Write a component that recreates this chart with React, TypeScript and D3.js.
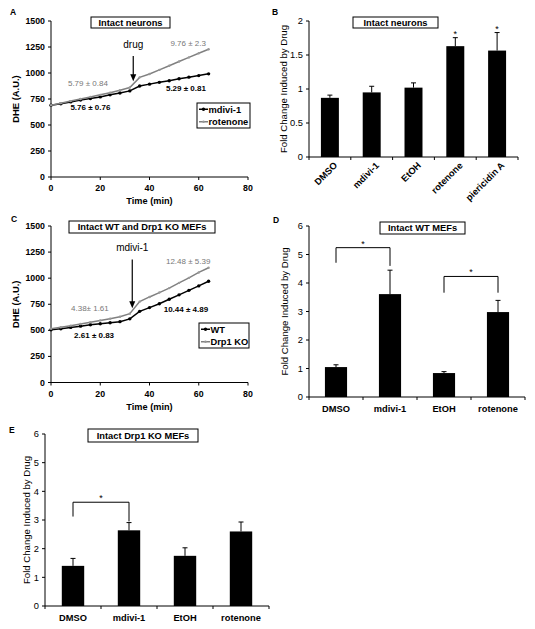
import React from 'react';
import * as d3 from 'd3';

const FONT = '"Liberation Sans", Arial, Helvetica, sans-serif';

// ---------- Panel A data ----------
const timeA = [0, 4, 8, 12, 16, 20, 24, 28, 32, 36, 40, 44, 48, 52, 56, 60, 64];
const mdiviA = [690, 705, 722, 740, 755, 770, 790, 808, 828, 875, 893, 910, 925, 945, 960, 975, 992];
const rotenoneA = [690, 710, 730, 750, 770, 790, 810, 835, 860, 958, 990, 1030, 1070, 1110, 1150, 1190, 1228];

// ---------- Panel C data ----------
const timeC = [0, 4, 8, 12, 16, 20, 24, 28, 32, 36, 40, 44, 48, 52, 56, 60, 64];
const wtC = [505, 515, 528, 540, 553, 563, 573, 583, 610, 682, 718, 755, 798, 840, 883, 926, 970];
const koC = [515, 530, 545, 560, 577, 595, 612, 630, 660, 775, 820, 862, 905, 955, 1003, 1055, 1100];

const yTicksLine = [0, 250, 500, 750, 1000, 1250, 1500];
const xTicksLine = [0, 20, 40, 60, 80];

// ---------- Panel B data ----------
const catsB = ['DMSO', 'mdivi-1', 'EtOH', 'rotenone', 'piericidin A'];
const valsB = [0.87, 0.95, 1.02, 1.63, 1.565];
const errB = [0.04, 0.09, 0.07, 0.125, 0.265];
const starsB = ['rotenone', 'piericidin A'];
const yTicksB = [0, 0.5, 1, 1.5, 2];

// ---------- Panel D data ----------
const catsD = ['DMSO', 'mdivi-1', 'EtOH', 'rotenone'];
const valsD = [1.05, 3.61, 0.84, 2.98];
const errD = [0.08, 0.84, 0.05, 0.41];
const yTicksD = [0, 1, 2, 3, 4, 5, 6];

// ---------- Panel E data ----------
const catsE = ['DMSO', 'mdivi-1', 'EtOH', 'rotenone'];
const valsE = [1.4, 2.64, 1.75, 2.6];
const errE = [0.26, 0.27, 0.28, 0.33];
const yTicksE = [0, 1, 2, 3, 4, 5, 6];

type Series = { values: number[]; color: string; marker: string; mr: number; name: string };
type Note = { t: number; v: number; text: string; color: string; bold: boolean };

function LinePanel(p: {
  left: number; right: number; top: number; bottom: number;
  time: number[]; series: Series[]; notes: Note[];
  arrow: { t: number; from: number; to: number; label: string };
  title: { x0: number; x1: number; y0: number; y1: number; text: string };
  legend: { x0: number; x1: number; y0: number; y1: number };
  letter: { x: number; y: number; text: string };
}) {
  const x = d3.scaleLinear().domain([0, 80]).range([p.left, p.right]);
  const y = d3.scaleLinear().domain([0, 1500]).range([p.bottom, p.top]);
  const line = d3.line<number>().x((_, i) => x(p.time[i])).y((d) => y(d));
  const ax = x(p.arrow.t);
  return (
    <g>
      <text x={p.letter.x} y={p.letter.y} fontSize={8.5} fontWeight="bold">{p.letter.text}</text>
      {/* axes */}
      <line x1={p.left} x2={p.left} y1={p.bottom} y2={p.top} stroke="#000" strokeWidth={1} />
      <line x1={p.left} x2={p.right} y1={p.bottom} y2={p.bottom} stroke="#000" strokeWidth={1} />
      {yTicksLine.map((t) => (
        <g key={'y' + t}>
          <line x1={p.left - 3} x2={p.left} y1={y(t)} y2={y(t)} stroke="#000" />
          <text x={p.left - 6} y={y(t)} dy="0.35em" textAnchor="end" fontSize={8.8} fontWeight="bold">{t}</text>
        </g>
      ))}
      {xTicksLine.map((t) => (
        <g key={'x' + t}>
          <line x1={x(t)} x2={x(t)} y1={p.bottom} y2={p.bottom + 3} stroke="#000" />
          <text x={x(t)} y={p.bottom + 14} textAnchor="middle" fontSize={8.8} fontWeight="bold">{t}</text>
        </g>
      ))}
      <text x={(p.left + p.right) / 2} y={p.bottom + 27} textAnchor="middle" fontSize={9.2} fontWeight="bold">Time (min)</text>
      <text transform={`translate(${p.left - 32},${(p.top + p.bottom) / 2}) rotate(-90)`} textAnchor="middle" fontSize={9.4} fontWeight="bold">DHE (A.U.)</text>
      {/* series */}
      {p.series.map((s, si) => (
        <g key={'s' + si}>
          <path d={line(s.values) || ''} fill="none" stroke={s.color} strokeWidth={1.5} />
          {s.values.map((v, i) => (
            <circle key={i} cx={x(p.time[i])} cy={y(v)} r={s.mr} fill={s.marker} />
          ))}
        </g>
      ))}
      {/* notes */}
      {p.notes.map((n, i) => (
        <text key={'n' + i} x={x(n.t)} y={y(n.v)} textAnchor="middle" fontSize={8} fill={n.color} fontWeight={n.bold ? 'bold' : 'normal'}>{n.text}</text>
      ))}
      {/* arrow */}
      <text x={ax} y={y(p.arrow.from) - 8} textAnchor="middle" fontSize={10}>{p.arrow.label}</text>
      <line x1={ax} x2={ax} y1={y(p.arrow.from)} y2={y(p.arrow.to) - 5} stroke="#000" strokeWidth={1.2} />
      <path d={`M${ax - 3},${y(p.arrow.to) - 7} L${ax},${y(p.arrow.to)} L${ax + 3},${y(p.arrow.to) - 7} Z`} fill="#000" />
      {/* title */}
      <rect x={p.title.x0} y={p.title.y0} width={p.title.x1 - p.title.x0} height={p.title.y1 - p.title.y0} fill="#fff" stroke="#000" strokeWidth={1} />
      <text x={(p.title.x0 + p.title.x1) / 2} y={(p.title.y0 + p.title.y1) / 2} dy="0.36em" textAnchor="middle" fontSize={9.3} fontWeight="bold">{p.title.text}</text>
      {/* legend */}
      <rect x={p.legend.x0} y={p.legend.y0} width={p.legend.x1 - p.legend.x0} height={p.legend.y1 - p.legend.y0} fill="#fff" stroke="#000" strokeWidth={1} />
      {p.series.map((s, i) => {
        const rows = p.series.length;
        const rh = (p.legend.y1 - p.legend.y0) / rows;
        const cy = p.legend.y0 + rh * (i + 0.5);
        return (
          <g key={'l' + i}>
            <line x1={p.legend.x0 + 2} x2={p.legend.x0 + 11} y1={cy} y2={cy} stroke={s.color} strokeWidth={1.5} />
            <circle cx={p.legend.x0 + 6.5} cy={cy} r={s.mr} fill={s.marker} />
            <text x={p.legend.x0 + 11.5} y={cy} dy="0.35em" fontSize={9.3} fontWeight="bold">{s.name}</text>
          </g>
        );
      })}
    </g>
  );
}

function BarPanel(p: {
  left: number; right: number; top: number; bottom: number; max: number;
  cats: string[]; vals: number[]; errs: number[]; yTicks: number[]; pad: number;
  rotated: boolean; stars: string[];
  brackets: { a: string; b: string; top: number; la: number; lb: number }[];
  title: { x0: number; x1: number; y0: number; y1: number; text: string };
  letter: { x: number; y: number; text: string };
  labelX: number;
}) {
  const x = d3.scaleBand<string>().domain(p.cats).range([p.left, p.right]).paddingInner(p.pad).paddingOuter(p.pad / 2);
  const y = d3.scaleLinear().domain([0, p.max]).range([p.bottom, p.top]);
  const step = x.step();
  const bw = x.bandwidth();
  const cx = (c: string) => (x(c) as number) + bw / 2;
  return (
    <g>
      <text x={p.letter.x} y={p.letter.y} fontSize={8.5} fontWeight="bold">{p.letter.text}</text>
      {p.cats.map((c, i) => (
        <g key={c}>
          <rect x={x(c)} y={y(p.vals[i])} width={bw} height={y(0) - y(p.vals[i])} fill="#000" />
          <line x1={cx(c)} x2={cx(c)} y1={y(p.vals[i])} y2={y(p.vals[i] + p.errs[i])} stroke="#000" strokeWidth={1} />
          <line x1={cx(c) - 2.5} x2={cx(c) + 2.5} y1={y(p.vals[i] + p.errs[i])} y2={y(p.vals[i] + p.errs[i])} stroke="#000" strokeWidth={1} />
          {p.stars.includes(c) && (
            <text x={cx(c)} y={y(p.vals[i] + p.errs[i]) - 1} textAnchor="middle" fontSize={9}>*</text>
          )}
        </g>
      ))}
      <line x1={p.left} x2={p.left} y1={p.bottom} y2={p.top} stroke="#000" />
      <line x1={p.left} x2={p.right} y1={p.bottom} y2={p.bottom} stroke="#000" />
      {d3.range(p.cats.length + 1).map((i) => (
        <line key={'ct' + i} x1={p.left + i * step} x2={p.left + i * step} y1={p.bottom} y2={p.bottom + 3} stroke="#000" />
      ))}
      {p.yTicks.map((t) => (
        <g key={'y' + t}>
          <line x1={p.left - 3} x2={p.left} y1={y(t)} y2={y(t)} stroke="#000" />
          <text x={p.left - 6} y={y(t)} dy="0.35em" textAnchor="end" fontSize={9.3}>{t}</text>
        </g>
      ))}
      {p.cats.map((c) =>
        p.rotated ? (
          <text key={'cl' + c} transform={`translate(${cx(c) + 8},${p.bottom + 9}) rotate(-45)`} textAnchor="end" fontSize={9.3} fontWeight="bold">{c}</text>
        ) : (
          <text key={'cl' + c} x={cx(c)} y={p.bottom + 15} textAnchor="middle" fontSize={9.3} fontWeight="bold">{c}</text>
        )
      )}
      <text transform={`translate(${p.labelX},${(p.top + p.bottom) / 2}) rotate(-90)`} textAnchor="middle" fontSize={9.6}>Fold Change Induced by Drug</text>
      {p.brackets.map((b, i) => (
        <g key={'b' + i}>
          <path d={`M${cx(b.a)},${y(b.la)} V${y(b.top)} H${cx(b.b)} V${y(b.lb)}`} fill="none" stroke="#000" strokeWidth={1} />
          <text x={(cx(b.a) + cx(b.b)) / 2} y={y(b.top) - 1} textAnchor="middle" fontSize={9}>*</text>
        </g>
      ))}
      <rect x={p.title.x0} y={p.title.y0} width={p.title.x1 - p.title.x0} height={p.title.y1 - p.title.y0} fill="#fff" stroke="#000" strokeWidth={1} />
      <text x={(p.title.x0 + p.title.x1) / 2} y={(p.title.y0 + p.title.y1) / 2} dy="0.36em" textAnchor="middle" fontSize={9.3} fontWeight="bold">{p.title.text}</text>
    </g>
  );
}

export default function App() {
  const gray = '#808080';
  return (
    <svg width={535} height={629} style={{ position: 'absolute', left: 0, top: 0, background: '#fff' }} fontFamily={FONT}>
      <rect x={0} y={0} width={535} height={629} fill="#fff" />
      <LinePanel
        left={51} right={248} top={21} bottom={177}
        time={timeA}
        series={[
          { values: mdiviA, color: '#000', marker: '#000', mr: 1.7, name: 'mdivi-1' },
          { values: rotenoneA, color: gray, marker: '#999', mr: 1.2, name: 'rotenone' },
        ]}
        notes={[
          { t: 15, v: 875, text: '5.79 ± 0.84', color: '#777', bold: false },
          { t: 16, v: 644, text: '5.76 ± 0.76', color: '#000', bold: true },
          { t: 55.7, v: 1260, text: '9.76 ± 2.3', color: '#777', bold: false },
          { t: 54.8, v: 827, text: '5.29 ± 0.81', color: '#000', bold: true },
        ]}
        arrow={{ t: 33.4, from: 1163, to: 920, label: 'drug' }}
        title={{ x0: 91, x1: 170, y0: 17, y1: 28, text: 'Intact neurons' }}
        legend={{ x0: 197, x1: 250, y0: 103, y1: 128 }}
        letter={{ x: 10, y: 15, text: 'A' }}
      />
      <LinePanel
        left={51} right={248} top={226} bottom={382.5}
        time={timeC}
        series={[
          { values: wtC, color: '#000', marker: '#000', mr: 1.7, name: 'WT' },
          { values: koC, color: gray, marker: '#999', mr: 1.2, name: 'Drp1 KO' },
        ]}
        notes={[
          { t: 15.8, v: 690, text: '4.38± 1.61', color: '#777', bold: false },
          { t: 17.5, v: 430, text: '2.61 ± 0.83', color: '#000', bold: true },
          { t: 55.7, v: 1132, text: '12.48 ± 5.39', color: '#777', bold: false },
          { t: 54.8, v: 680, text: '10.44 ± 4.89', color: '#000', bold: true },
        ]}
        arrow={{ t: 33, from: 1180, to: 712, label: 'mdivi-1' }}
        title={{ x0: 69, x1: 215, y0: 221, y1: 233, text: 'Intact WT and Drp1 KO MEFs' }}
        legend={{ x0: 199, x1: 249, y0: 323, y1: 348 }}
        letter={{ x: 11, y: 222, text: 'C' }}
      />
      <BarPanel
        left={309} right={518} top={21} bottom={157} max={2}
        cats={catsB} vals={valsB} errs={errB} yTicks={yTicksB} pad={0.57}
        rotated={true} stars={starsB} brackets={[]}
        title={{ x0: 353, x1: 438, y0: 17, y1: 28, text: 'Intact neurons' }}
        letter={{ x: 272, y: 15, text: 'B' }}
        labelX={287}
      />
      <BarPanel
        left={309} right={525} top={226} bottom={397} max={6}
        cats={catsD} vals={valsD} errs={errD} yTicks={yTicksD} pad={0.59}
        rotated={false} stars={[]}
        brackets={[
          { a: 'DMSO', b: 'mdivi-1', top: 5.24, la: 4.71, lb: 4.6 },
          { a: 'EtOH', b: 'rotenone', top: 4.23, la: 3.66, lb: 3.66 },
        ]}
        title={{ x0: 380, x1: 465, y0: 222, y1: 234, text: 'Intact WT MEFs' }}
        letter={{ x: 273, y: 223, text: 'D' }}
        labelX={288}
      />
      <BarPanel
        left={45} right={269} top={434} bottom={606} max={6}
        cats={catsE} vals={valsE} errs={errE} yTicks={yTicksE} pad={0.6}
        rotated={false} stars={[]}
        brackets={[{ a: 'DMSO', b: 'mdivi-1', top: 3.62, la: 3.12, lb: 2.95 }]}
        title={{ x0: 88, x1: 198, y0: 429, y1: 442, text: 'Intact Drp1 KO MEFs' }}
        letter={{ x: 9, y: 433, text: 'E' }}
        labelX={30}
      />
    </svg>
  );
}
